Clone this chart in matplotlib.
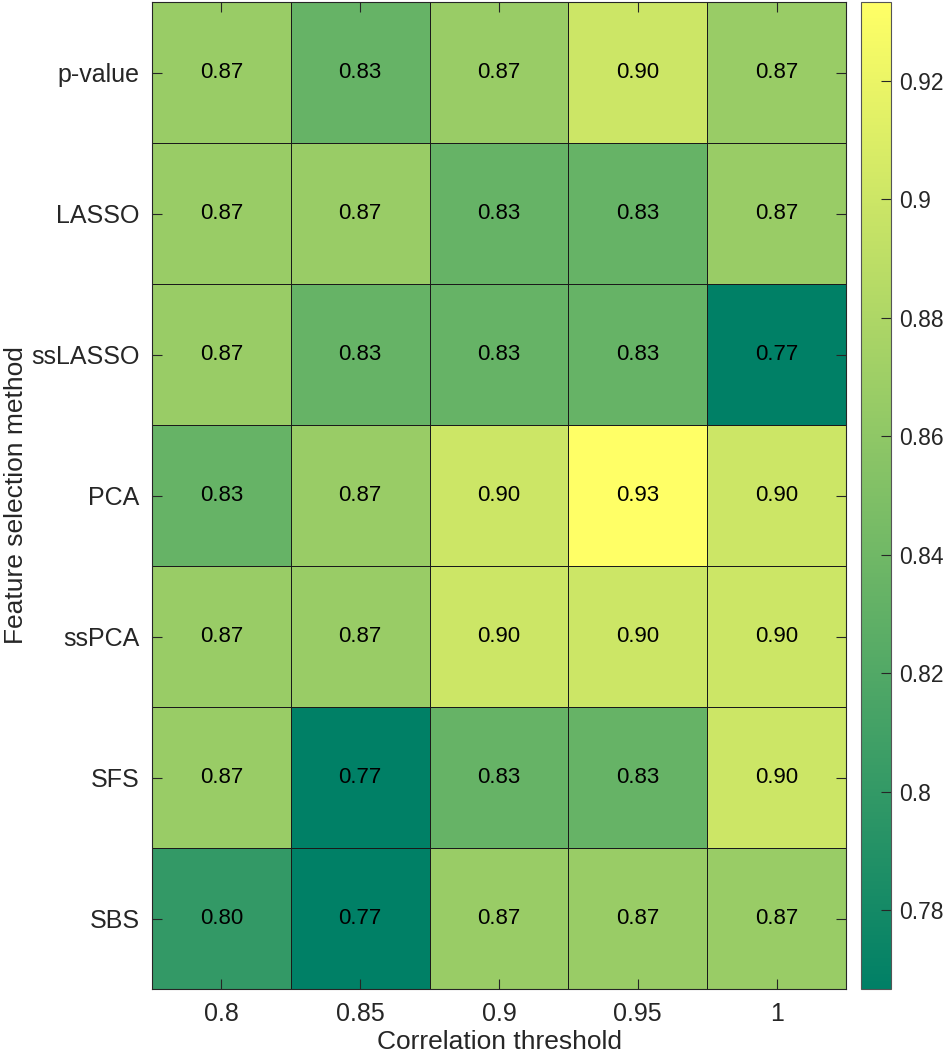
import numpy as np
import matplotlib
matplotlib.use('Agg')
import matplotlib.pyplot as plt

plt.rcParams['font.family'] = ['Liberation Sans', 'DejaVu Sans']

methods = ['p-value', 'LASSO', 'ssLASSO', 'PCA', 'ssPCA', 'SFS', 'SBS']
thresholds = ['0.8', '0.85', '0.9', '0.95', '1']

# accuracy values (fractions of 30 test cases)
p_value = [0.8667, 0.8333, 0.8667, 0.9000, 0.8667]
lasso = [0.8667, 0.8667, 0.8333, 0.8333, 0.8667]
sslasso = [0.8667, 0.8333, 0.8333, 0.8333, 0.7667]
pca = [0.8333, 0.8667, 0.9000, 0.9333, 0.9000]
sspca = [0.8667, 0.8667, 0.9000, 0.9000, 0.9000]
sfs = [0.8667, 0.7667, 0.8333, 0.8333, 0.9000]
sbs = [0.8000, 0.7667, 0.8667, 0.8667, 0.8667]

cbar_ticks = [0.78, 0.80, 0.82, 0.84, 0.86, 0.88, 0.90, 0.92]
cbar_labels = ['0.78', '0.8', '0.82', '0.84', '0.86', '0.88', '0.9', '0.92']

data = np.array([p_value, lasso, sslasso, pca, sspca, sfs, sbs])
vmin, vmax = data.min(), data.max()

dark = '#262626'
fig = plt.figure(figsize=(9.46, 10.59), dpi=100)
ax = fig.add_axes([0.1607, 0.0661, 0.7336, 0.9319])
cax = fig.add_axes([0.910, 0.0661, 0.0317, 0.9319])

mesh = ax.pcolormesh(np.arange(len(thresholds) + 1), np.arange(len(methods) + 1), data,
                     cmap='summer', vmin=vmin, vmax=vmax,
                     edgecolors='#1a1a1a', linewidth=0.7)
ax.set_xlim(0, len(thresholds))
ax.set_ylim(len(methods), 0)

for i in range(len(methods)):
    for j in range(len(thresholds)):
        ax.text(j + 0.5, i + 0.5, f'{data[i, j]:.2f}', ha='center', va='center',
                fontsize=16, color='black')

ax.set_xticks(np.arange(len(thresholds)) + 0.5)
ax.set_xticklabels(thresholds)
ax.set_yticks(np.arange(len(methods)) + 0.5)
ax.set_yticklabels(methods)
ax.tick_params(direction='in', length=7, width=0.8, colors=dark, labelsize=18,
               top=True, right=True, pad=9)
for s in ax.spines.values():
    s.set_color(dark)
    s.set_linewidth(0.8)
ax.set_xlabel('Correlation threshold', fontsize=19, color=dark, labelpad=3)
ax.set_ylabel('Feature selection method', fontsize=19, color=dark, labelpad=2)

cb = fig.colorbar(mesh, cax=cax)
cb.set_ticks(cbar_ticks)
cb.set_ticklabels(cbar_labels)
cb.ax.tick_params(direction='in', length=7, width=0.8, colors=dark, labelsize=16.5, pad=6)
cb.outline.set_edgecolor('#555555')
cb.outline.set_linewidth(0.8)

fig.savefig('out.png', dpi=100)
